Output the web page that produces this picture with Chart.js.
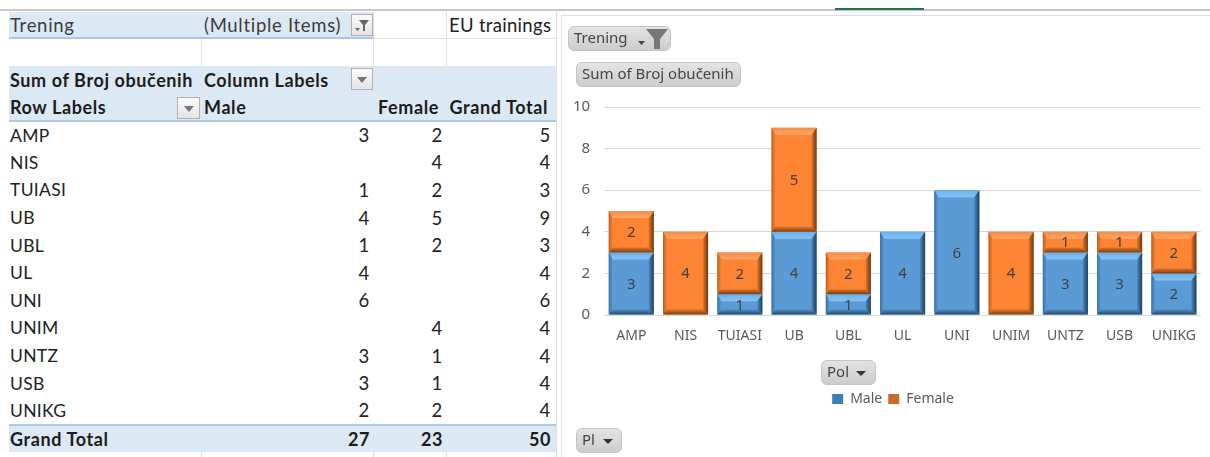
<!DOCTYPE html>
<html>
<head>
<meta charset="utf-8">
<title>EU trainings</title>
<script src="https://cdn.jsdelivr.net/npm/chart.js@4"></script>
<style>
    html, body { margin: 0; padding: 0; background: #fff; width: 1210px; height: 457px; overflow: hidden; }
    body { position: relative; font-family: Lato, "Open Sans", sans-serif; color: #222; }
    .line { position: absolute; background: #dedede; }
    table { position: absolute; left: 9px; top: 12px; border-collapse: collapse; table-layout: fixed; width: 547px; font-size: 18.5px; letter-spacing: 0.7px; }
    td { padding: 0 3px; height: 27.6px; white-space: nowrap; overflow: hidden; box-sizing: border-box; }
    td.first { padding-left: 1px; }
    td.num { text-align: right; padding-right: 3px; }
    tr td.num:last-child { padding-right: 5px; }
    tr.row td.first { font-size: 17.5px; letter-spacing: 0.3px; }
    tr.blue td { background: #dce9f5; font-weight: bold; font-size: 18px; letter-spacing: 0.6px; color: #1c1c1c; }
    tr.head td.num { padding-right: 7px; }
    tr.head td.num:last-child { padding-right: 8px; }
    tr.page td { height: 26px; background: #dce9f5; border-bottom: 2px solid #a9c8e8; color: #3c3c3c; }
    tr.page td.plain { background: none; border-bottom: 1px solid #e2e2e2; padding-left: 3px; color: #222; letter-spacing: 0.3px; }
    tr.gap td { height: 28px; }
    tr.blue td { height: 27.5px; }
    tr.head td { border-bottom: 2px solid #a9c8e8; }
    tr.blue.total td { border-top: 2px solid #a9c8e8; height: 27px; }
    .drop { position: absolute; box-sizing: border-box; background: linear-gradient(#fbfbfb, #e4e4e4); border: 1px solid #b0b0b0; }
    .drop i { position: absolute; left: 50%; top: 50%; margin: -2px 0 0 -5px; border: 5px solid transparent; border-top: 6px solid #777; border-bottom: 0; }
    .pill { position: absolute; box-sizing: border-box; height: 25px; background: linear-gradient(#e3e3e3, #cdcdcd); border: 1px solid #c4c4c4; border-radius: 6px; font: 15px/21px "Noto Sans", sans-serif; color: #444; padding-left: 5px; white-space: nowrap; }
    .pill i { position: absolute; top: 10px; border: 5px solid transparent; border-top: 5px solid #333; border-bottom: 0; }
    #chart { position: absolute; left: 561px; top: 10px; }
</style>
</head>
<body>
<div class="line" style="left:0;top:9px;width:1210px;height:2px;background:#c8c8c8"></div>
<div class="line" style="left:835px;top:8px;width:89px;height:2px;background:#217346"></div>
<div class="line" style="left:561px;top:15px;width:649px;height:1px"></div>
<div class="line" style="left:561px;top:15px;width:1px;height:442px"></div>
<div class="line" style="left:201px;top:38px;width:1px;height:28px"></div>
<div class="line" style="left:373px;top:12px;width:1px;height:54px"></div>
<div class="line" style="left:446px;top:12px;width:1px;height:54px"></div>
<div class="line" style="left:556px;top:12px;width:1px;height:445px"></div>
<div class="line" style="left:201px;top:452px;width:1px;height:5px"></div>
<div class="line" style="left:373px;top:452px;width:1px;height:5px"></div>
<div class="line" style="left:446px;top:452px;width:1px;height:5px"></div>
<table id="pivot">
    <colgroup><col style="width:192px"><col style="width:172px"><col style="width:73px"><col style="width:110px"></colgroup>
    <tbody id="pivot-body"></tbody>
</table>
<div class="drop" style="left:351px;top:14px;width:22px;height:22px">
    <svg width="20" height="20" viewBox="0 0 20 20" style="position:absolute;left:0;top:0"><path d="M7 5h10l-4 5v6h-2v-6z" fill="#666"/><path d="M3 13h5l-2.500 3z" fill="#666"/></svg>
</div>
<div class="drop" style="left:351px;top:68px;width:22px;height:22px"><i></i></div>
<div class="drop" style="left:177px;top:97px;width:23px;height:22px"><i></i></div>
<canvas id="chart" width="649" height="447"></canvas>
<div class="pill" style="left:568px;top:26px;width:103px">Trening
    <svg width="34" height="24" viewBox="0 0 34 24" style="position:absolute;left:66px;top:0"><path d="M11 2h22l-8 10v10h-6v-10z" fill="#777"/><path d="M3 14h7l-3.500 4z" fill="#444"/></svg>
</div>
<div class="pill" style="left:576px;top:62px;width:165px">Sum of Broj obučenih</div>
<div class="pill" style="left:821px;top:360px;width:55px">Pol<i style="left:34px"></i></div>
<div class="pill" style="left:576px;top:428px;width:46px">Pl<i style="left:26px"></i></div>
<script>
var categories = ['AMP', 'NIS', 'TUIASI', 'UB', 'UBL', 'UL', 'UNI', 'UNIM', 'UNTZ', 'USB', 'UNIKG'];
var maleValues = [3, null, 1, 4, 1, 4, 6, null, 3, 3, 2];
var femaleValues = [2, 4, 2, 5, 2, null, null, 4, 1, 1, 2];
var rowTotals = [5, 4, 3, 9, 3, 4, 6, 4, 4, 4, 4];
var grandTotals = [27, 23, 50];
var seriesNames = ['Male', 'Female'];
var yTicks = [0, 2, 4, 6, 8, 10];

function addRow(className, cells) {
    var tr = document.createElement('tr');
    tr.className = className;
    cells.forEach(function(text, i) {
        var td = document.createElement('td');
        td.textContent = text === null ? '' : text;
        if (i === 0) td.className = 'first';
        if (i > 1 || (i === 1 && typeof text === 'number')) td.className = 'num';
        tr.appendChild(td);
    });
    document.getElementById('pivot-body').appendChild(tr);
    return tr;
}

var pageRow = addRow('page', ['Trening', '(Multiple Items)', '', 'EU trainings']);
pageRow.children[2].className = 'plain';
pageRow.children[3].className = 'plain';
addRow('gap', ['', '', '', '']);
addRow('blue', ['Sum of Broj obučenih', 'Column Labels', '', '']);
addRow('blue head', ['Row Labels', seriesNames[0], seriesNames[1], 'Grand Total']);
categories.forEach(function(name, i) {
    addRow('row', [name, maleValues[i], femaleValues[i], rowTotals[i]]);
});
addRow('blue total', ['Grand Total'].concat(grandTotals));

// Excel style bevel, drawn on top of each bar from the element's own geometry
var bevelPlugin = {
    id: 'bevel',
    afterDatasetsDraw: function(chart) {
        var ctx = chart.ctx;
        chart.data.datasets.forEach(function(ds, di) {
            chart.getDatasetMeta(di).data.forEach(function(bar, i) {
                if (ds.data[i] === null) return;
                var l = bar.x - bar.width / 2, r = bar.x + bar.width / 2;
                var t = bar.y, b = bar.base;
                function quad(pts, from, to, x0, y0, x1, y1) {
                    var g = ctx.createLinearGradient(x0, y0, x1, y1);
                    g.addColorStop(0, from);
                    g.addColorStop(1, to);
                    ctx.fillStyle = g;
                    ctx.beginPath();
                    ctx.moveTo(pts[0], pts[1]);
                    ctx.lineTo(pts[2], pts[3]);
                    ctx.lineTo(pts[4], pts[5]);
                    ctx.lineTo(pts[6], pts[7]);
                    ctx.closePath();
                    ctx.fill();
                }
                var c = ds.bevel;
                quad([l, t, r, t, r - 5, t + 7, l + 4, t + 7], c.top[0], c.top[1], 0, t, 0, t + 7);
                quad([l, t, l + 4, t + 7, l + 4, b - 5, l, b], c.left[0], c.left[1], l, 0, l + 4, 0);
                quad([r, t, r - 5, t + 7, r - 5, b - 5, r, b], c.right[0], c.right[1], r, 0, r - 5, 0);
                quad([l, b, l + 4, b - 5, r - 5, b - 5, r, b], c.bottom[0], c.bottom[1], 0, b - 5, 0, b);
            });
        });
    }
};

// value labels in the middle of each segment
var valueLabelPlugin = {
    id: 'valueLabels',
    afterDatasetsDraw: function(chart) {
        var ctx = chart.ctx;
        ctx.save();
        ctx.font = '15px "Noto Sans"';
        ctx.fillStyle = '#404040';
        ctx.textAlign = 'center';
        ctx.textBaseline = 'middle';
        chart.data.datasets.forEach(function(ds, di) {
            chart.getDatasetMeta(di).data.forEach(function(bar, i) {
                if (ds.data[i] === null) return;
                ctx.fillText(ds.data[i], bar.x, (bar.y + bar.base) / 2 + 1);
            });
        });
        ctx.restore();
    }
};

// the legend sits a little right of the chart's centre in the original
var legendShiftPlugin = {
    id: 'legendShift',
    afterLayout: function(chart) {
        chart.legend.left += 13;
        chart.legend.right += 13;
    }
};

new Chart(document.getElementById('chart').getContext('2d'), {
    type: 'bar',
    data: {
        labels: categories,
        datasets: [{
            label: seriesNames[0],
            data: maleValues,
            backgroundColor: '#5B9BD5',
            bevel: {
                top: ['#6aaee8', '#86c4f6'],
                left: ['#3c709e', '#5B9BD5'],
                right: ['#1f3f5c', '#4a86bc'],
                bottom: ['#4f8ec6', '#24496c']
            }
        }, {
            label: seriesNames[1],
            data: femaleValues,
            backgroundColor: '#FD8433',
            bevel: {
                top: ['#f58a45', '#ffa868'],
                left: ['#b85f22', '#FD8433'],
                right: ['#6b3813', '#e07428'],
                bottom: ['#e07428', '#7a3f15']
            }
        }]
    },
    options: {
        responsive: false,
        animation: false,
        layout: { padding: { left: -2, right: 9, top: 97, bottom: 41 } },
        datasets: { bar: { barPercentage: 0.83, categoryPercentage: 1 } },
        plugins: {
            tooltip: { enabled: false },
            legend: {
                position: 'bottom',
                labels: {
                    boxWidth: 11,
                    boxHeight: 10,
                    padding: 6,
                    color: '#595959',
                    font: { family: '"Noto Sans"', size: 14 },
                    generateLabels: function(chart) {
                        var items = Chart.defaults.plugins.legend.labels.generateLabels(chart);
                        items[0].fillStyle = '#3f7fb8';
                        items[1].fillStyle = '#c96a28';
                        items[0].lineWidth = 0;
                        items[1].lineWidth = 0;
                        return items;
                    }
                }
            }
        },
        scales: {
            x: {
                stacked: true,
                grid: { display: false },
                border: { display: false },
                ticks: { color: '#595959', padding: 5, maxRotation: 0, font: { family: '"Noto Sans"', size: 14 } },
                afterFit: function(scale) { scale.height = 71; }
            },
            y: {
                stacked: true,
                min: 0,
                max: 10,
                grid: { color: '#d9d9d9', drawTicks: false },
                border: { display: false },
                afterBuildTicks: function(scale) {
                    scale.ticks = yTicks.map(function(v) { return { value: v }; });
                },
                ticks: { color: '#595959', padding: 14, font: { family: '"Noto Sans"', size: 15 } }
            }
        }
    },
    plugins: [bevelPlugin, valueLabelPlugin, legendShiftPlugin]
});
</script>
</body>
</html>
